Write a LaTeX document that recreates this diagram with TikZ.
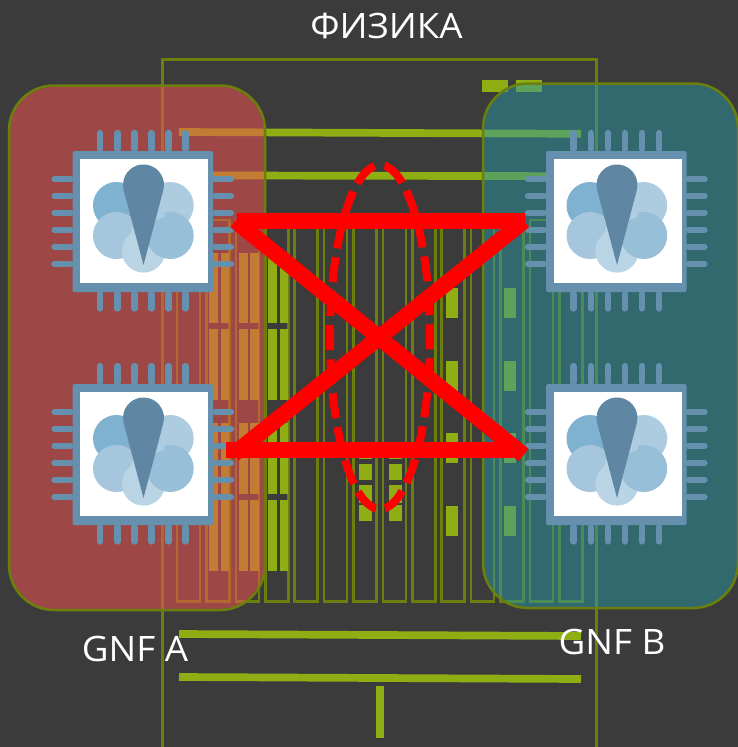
\documentclass[tikz,border=0pt]{standalone}
\usepackage{fontspec}
\setmainfont[FakeStretch=1.05]{Open Sans}
\definecolor{bgc}{HTML}{3B3B3B}
\definecolor{olivec}{HTML}{6B800C}
\definecolor{limec}{HTML}{8FAE14}
\definecolor{redblob}{HTML}{EF5350}
\definecolor{tealblob}{HTML}{2B97A3}
\definecolor{chipc}{HTML}{6590AE}
\definecolor{petUL}{HTML}{7FB2D0}
\definecolor{petUR}{HTML}{AECCE0}
\definecolor{petLL}{HTML}{A5C6DD}
\definecolor{petLR}{HTML}{97BFD8}
\definecolor{petB}{HTML}{B8D4E5}
\definecolor{petT}{HTML}{5F87A3}
\tikzset{
  slotbox/.style={draw=olivec,line width=2.5pt},
  barfill/.style={fill=limec},
  thickbar/.style={draw=limec,line width=7.7pt},
  xline/.style={draw=red,line width=16pt},
  pinline/.style={draw=chipc,line width=6.3pt,line cap=round},
  label/.style={text=white,font=\fontsize{35}{42}\selectfont,inner sep=0pt},
  chip/.pic={
    \fill[chipc,rounded corners=1.5pt] (0,0) rectangle (140.5,141);
    \foreach \p in {27.5,45,62,79,96,113}{
      \draw[pinline] (\p,-2) -- (\p,-18);
      \draw[pinline] (\p,143) -- (\p,157.5);
    }
    \foreach \p in {28.3,45,62,79,95.7,113}{
      \draw[pinline] (-2,\p) -- (-18,\p);
      \draw[pinline] (142.5,\p) -- (158.5,\p);
    }
    \fill[white] (7.5,7.5) rectangle (135.5,132);
    \fill[petUL] (44,54.5) circle (23.5);
    \fill[petLL] (44,84.5) circle (23.5);
    \fill[petLL] (50,68) -- (68,62) -- (68,90) -- (50,90) -- cycle;
    \fill[petB] (71,100) circle (21.6);
    \fill[petB] (53,96) -- (62,72) -- (80,72) -- (89,96) -- cycle;
    \fill[petUR] (97.7,54.5) circle (23.5);
    \fill[petLR] (97.7,84.5) circle (23.5);
    \fill[petUR] (74,40) -- (92,40) -- (92,66) -- (74,72) -- cycle;
    \fill[petLR] (76,74) -- (95,66) -- (95,92) -- (82,92) -- cycle;
    \fill[petT] (71,114) -- (90.8,39.2) arc[start angle=14.8,end angle=-194.8,radius=20.5] -- cycle;
  }
}
\begin{document}
\begin{tikzpicture}[x=1pt,y=-1pt]
\useasboundingbox (0,0) rectangle (738,747);
\fill[bgc] (0,0) rectangle (738,747);
% slots
\foreach \i in {0,...,13}{
  \pgfmathsetmacro{\xx}{177.1+29.4*\i}
  \draw[slotbox] (\xx,220) rectangle ({\xx+23},601.5);
}
% long bars
\foreach \sx in {205,234.8,264}{
  \foreach \ya/\yb in {253/323,329/400,423/494,500/571}{
    \fill[barfill] (\sx+4.2,\ya) rectangle (\sx+13,\yb);
    \fill[barfill] (\sx+15.5,\ya) rectangle (\sx+24.3,\yb);
  }
}
% centre bars
\foreach \sx in {359.3,389.3}{
  \foreach \ya/\yb in {454/459,463.5/480,484.5/503,505/521}{
    \fill[barfill] (\sx,\ya) rectangle (\sx+12.2,\yb);
  }
}
% short bars
\foreach \sx in {446,504}{
  \foreach \ya in {288,360.5,433,506}{
    \fill[barfill] (\sx,\ya) rectangle (\sx+12,\ya+30);
  }
}
\fill[barfill] (482.3,80) rectangle (507.7,91.8);
\fill[barfill] (516,80) rectangle (542,91.8);
\draw[thickbar] (179,132) -- (581,133.8);
\draw[thickbar] (179,175.4) -- (581,176.2);
\draw[thickbar] (179,634) -- (581,636);
\draw[thickbar] (179,677) -- (581,679);
\draw[limec,line width=8pt] (380,686) -- (380,738);
% frame
\draw[olivec,line width=2.5pt] (162.5,749) -- (162.5,59.5) -- (596.7,59.5) -- (596.7,749);
% GNF blobs
\path[fill=redblob,fill opacity=.55,draw=olivec,line width=2.5pt,rounded corners=45pt] (9,85.5) rectangle (265,610);
\path[fill=tealblob,fill opacity=.5,draw=olivec,line width=2.5pt,rounded corners=45pt] (483,83.5) rectangle (738,608);
% chips
\pic (chipa1) at (72.5,151) {chip};
\pic (chipa2) at (72.5,384) {chip};
\pic (chipb1) at (546,151) {chip};
\pic (chipb2) at (546,384) {chip};
% red cross
\draw[xline] (237,221) -- (525,221);
\draw[xline] (226,450) -- (513,450);
\draw[xline] (235.5,221) -- (523.5,455);
\draw[xline] (524,221) -- (234,454);
\draw[red,line width=8pt,dash pattern=on 25pt off 9.1pt,dash phase=29.55pt] (380,165) arc[start angle=-90,end angle=270,x radius=50,y radius=172];
% labels
\node[label,anchor=base] (fiz) at (386.5,38) {ФИЗИКА};
\node[label,anchor=base] (gnfa) at (135,661) {GNF A};
\node[label,anchor=base] (gnfb) at (612,654) {GNF B};
\end{tikzpicture}
\end{document}
